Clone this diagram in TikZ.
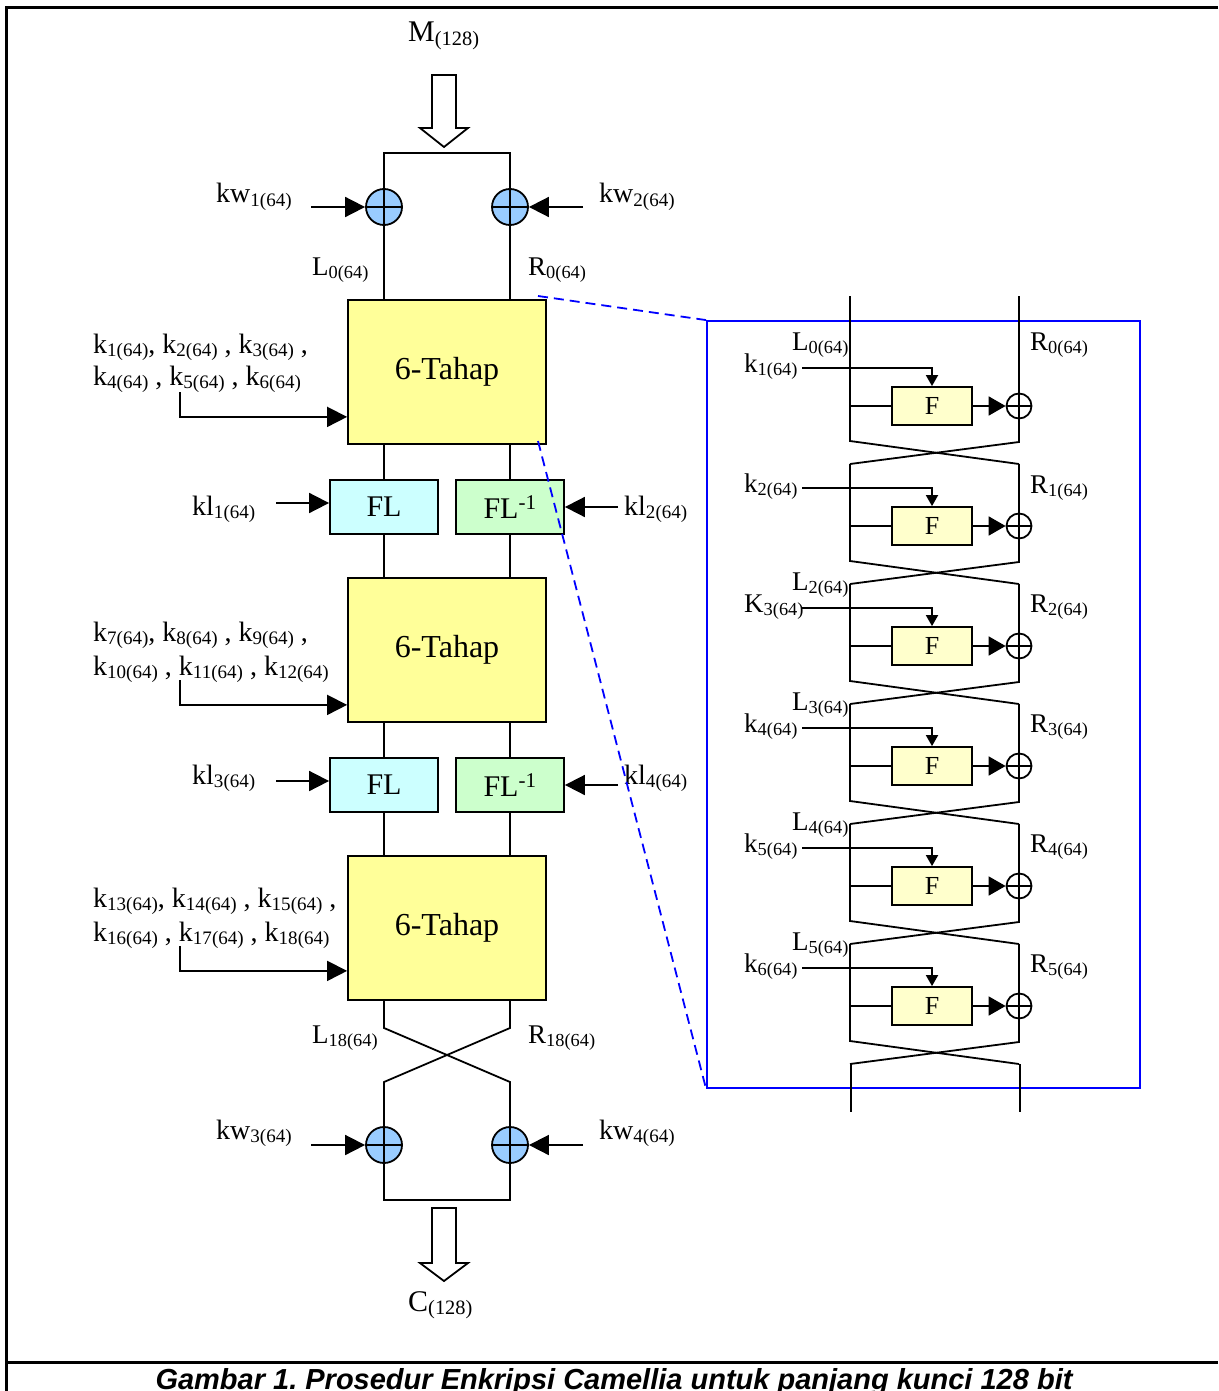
\documentclass[tikz,border=0pt]{standalone}
\usepackage{fontspec}
\usepackage{graphicx}
\setmainfont{Liberation Serif}
\newfontfamily\capfont{Liberation Sans}
\usetikzlibrary{arrows.meta,calc}
\definecolor{tyellow}{HTML}{FFFF99}
\definecolor{fyellow}{HTML}{FFFFCC}
\definecolor{xblue}{HTML}{99CCFF}
\definecolor{flcyan}{HTML}{CCFFFF}
\definecolor{flgreen}{HTML}{CCFFCC}
\newcommand\sbs[1]{\raisebox{-0.12em}{\scalebox{0.68}{#1}}}
\frenchspacing
\begin{document}
\begin{tikzpicture}[x=1pt,y=-1pt,
  ln/.style={line width=1.8pt},
  big/.style={font=\fontsize{30}{32}\selectfont},
  keyf/.style={font=\fontsize{28}{30}\selectfont},
  mid/.style={font=\fontsize{27}{30}\selectfont},
  lab/.style={inner sep=0pt, anchor=base west},
  tahap/.style={draw, line width=1.8pt, fill=tyellow, minimum width=198pt, minimum height=144pt, inner sep=0pt, font=\fontsize{32}{34}\selectfont},
  flbox/.style={draw, line width=1.8pt, minimum width=108pt, minimum height=54pt, inner sep=0pt, font=\fontsize{30}{32}\selectfont},
  bigxor/.style={circle, draw, line width=1.8pt, fill=xblue, minimum size=36pt, inner sep=0pt},
  fbox/.style={draw, line width=1.8pt, fill=fyellow, minimum width=80pt, minimum height=38pt, inner sep=0pt, font=\fontsize{26}{28}\selectfont},
  smxor/.style={circle, draw, line width=1.8pt, minimum size=25pt, inner sep=0pt},
  bigtip/.style={-{Triangle[length=20pt,width=20pt]}},
  midtip/.style={-{Triangle[length=17pt,width=19pt]}},
  smtip/.style={-{Triangle[length=11pt,width=12pt]}},
  hollow/.style={draw, line width=1.8pt, fill=white},
  zoomline/.style={draw=blue, line width=1.8pt, dash pattern=on 10pt off 6pt},
]
\useasboundingbox (0,0) rectangle (1218,1391);
% frame
\draw[line width=3pt] (1218,7.5) -- (6,7.5) -- (6,1391);
\draw[line width=3pt] (6,1362) -- (1218,1362);

% ---------- left column ----------
\draw[hollow] (432,75) -- (456,75) -- (456,128) -- (468,128) -- (444,147) -- (420,128) -- (432,128) -- cycle;
\draw[hollow] (432,1208) -- (456,1208) -- (456,1263) -- (468,1263) -- (444,1281) -- (420,1263) -- (432,1263) -- cycle;

\node[bigxor] (xa) at (384,207) {};
\node[bigxor] (xb) at (510,207) {};
\node[tahap] (t1) at (447,372) {6-Tahap};
\node[flbox, fill=flcyan] (fl1) at (384,507) {FL};
\node[flbox, fill=flgreen] (fli1) at (510,507) {FL\textsuperscript{-1}};
\node[tahap] (t2) at (447,650) {6-Tahap};
\node[flbox, fill=flcyan] (fl2) at (384,785) {FL};
\node[flbox, fill=flgreen] (fli2) at (510,785) {FL\textsuperscript{-1}};
\node[tahap] (t3) at (447,928) {6-Tahap};
\node[bigxor] (xc) at (384,1145) {};
\node[bigxor] (xd) at (510,1145) {};

\foreach \n in {xa,xb,xc,xd} {
  \draw[ln] (\n.north) -- (\n.south) (\n.west) -- (\n.east);
}

\coordinate (ta) at (384,153);
\coordinate (tb) at (510,153);
\draw[ln] (xa.north) -- (ta) -- (tb) -- (xb.north);
\draw[ln] (xa.south) -- (xa.south |- t1.north);
\draw[ln] (xb.south) -- (xb.south |- t1.north);
\draw[ln] (fl1.north) -- (fl1.north |- t1.south);
\draw[ln] (fli1.north) -- (fli1.north |- t1.south);
\draw[ln] (fl1.south) -- (fl1.south |- t2.north);
\draw[ln] (fli1.south) -- (fli1.south |- t2.north);
\draw[ln] (fl2.north) -- (fl2.north |- t2.south);
\draw[ln] (fli2.north) -- (fli2.north |- t2.south);
\draw[ln] (fl2.south) -- (fl2.south |- t3.north);
\draw[ln] (fli2.south) -- (fli2.south |- t3.north);

\coordinate (ca) at (384,1028);
\coordinate (cb) at (510,1028);
\coordinate (cc) at (384,1082);
\coordinate (cd) at (510,1082);
\draw[ln] (ca |- t3.south) -- (ca) -- (cd) -- (xd.north);
\draw[ln] (cb |- t3.south) -- (cb) -- (cc) -- (xc.north);
\coordinate (ba) at (384,1200);
\coordinate (bb) at (510,1200);
\draw[ln] (xc.south) -- (ba) -- (bb) -- (xd.south);

% key arrows
\coordinate (kw1s) at (311,207);
\coordinate (kw2s) at (583,207);
\coordinate (kw3s) at (311,1145);
\coordinate (kw4s) at (583,1145);
\draw[ln,bigtip] (kw1s) -- (xa.west);
\draw[ln,bigtip] (kw2s) -- (xb.east);
\draw[ln,bigtip] (kw3s) -- (xc.west);
\draw[ln,bigtip] (kw4s) -- (xd.east);

\coordinate (kl1s) at (276,503);
\coordinate (kl2s) at (618,507);
\coordinate (kl3s) at (276,781);
\coordinate (kl4s) at (618,785);
\draw[ln,bigtip] (kl1s) -- (kl1s -| fl1.west);
\draw[ln,bigtip] (kl2s) -- (kl2s -| fli1.east);
\draw[ln,bigtip] (kl3s) -- (kl3s -| fl2.west);
\draw[ln,bigtip] (kl4s) -- (kl4s -| fli2.east);

\coordinate (ka1) at (180,392);
\coordinate (ka2) at (180,680);
\coordinate (ka3) at (180,946);
\draw[ln,bigtip] (ka1) |- ([yshift=28pt]t1.south west);
\draw[ln,bigtip] (ka2) |- ([yshift=18pt]t2.south west);
\draw[ln,bigtip] (ka3) |- ([yshift=30pt]t3.south west);

% labels left
\node[lab,big] (lm) at (408,42) {M\sbs{(128)}};
\node[lab,big] (lc) at (408,1311) {C\sbs{(128)}};
\node[lab,keyf] (lkw1) at (216,203) {kw\sbs{1(64)}};
\node[lab,keyf] (lkw2) at (599,203) {kw\sbs{2(64)}};
\node[lab,keyf] (lkw3) at (216,1139) {kw\sbs{3(64)}};
\node[lab,keyf] (lkw4) at (599,1139) {kw\sbs{4(64)}};
\node[lab,mid] (ll0) at (312,275) {L\sbs{0(64)}};
\node[lab,mid] (lr0) at (528,275) {R\sbs{0(64)}};
\node[lab,mid] (ll18) at (312,1043) {L\sbs{18(64)}};
\node[lab,mid] (lr18) at (528,1043) {R\sbs{18(64)}};
\node[lab,keyf] (lkl1) at (192,515) {kl\sbs{1(64)}};
\node[lab,keyf] (lkl2) at (624,515) {kl\sbs{2(64)}};
\node[lab,keyf] (lkl3) at (192,784) {kl\sbs{3(64)}};
\node[lab,keyf] (lkl4) at (624,784) {kl\sbs{4(64)}};

\node[lab,keyf] (ks1a) at (93,353) {k\sbs{1(64)}, k\sbs{2(64)} , k\sbs{3(64)} ,};
\node[lab,keyf] (ks1b) at (93,385) {k\sbs{4(64)} , k\sbs{5(64)} , k\sbs{6(64)}};
\node[lab,keyf] (ks2a) at (93,641) {k\sbs{7(64)}, k\sbs{8(64)} , k\sbs{9(64)} ,};
\node[lab,keyf] (ks2b) at (93,675) {k\sbs{10(64)} , k\sbs{11(64)} , k\sbs{12(64)}};
\node[lab,keyf] (ks3a) at (93,907) {k\sbs{13(64)}, k\sbs{14(64)} , k\sbs{15(64)} ,};
\node[lab,keyf] (ks3b) at (93,941) {k\sbs{16(64)} , k\sbs{17(64)} , k\sbs{18(64)}};

% ---------- right panel ----------
\node[draw=blue, line width=1.8pt, minimum width=433pt, minimum height=767pt, inner sep=0pt] (zr) at (923.5,704.5) {};
\coordinate (d1) at (538,296);
\coordinate (d2) at (538,441);
\draw[zoomline] (d1) -- (zr.north west);
\draw[zoomline] (d2) -- (zr.south west);

\foreach \i in {1,...,6} {
  \pgfmathsetmacro{\cy}{406+120*(\i-1)}
  \pgfmathsetmacro{\ytop}{ifthenelse(\i==1,296,\cy-62)}
  \node[fbox] (F\i) at (932,\cy) {F};
  \node[smxor] (X\i) at (1019,\cy) {};
  \coordinate (KS\i) at (802,\cy-38);
  \coordinate (LV\i) at (850,\cy);
  \draw[ln] (850,\ytop) -- (850,\cy+35) -- (1019,\cy+58);
  \draw[ln] (1019,\ytop) -- (1019,\cy+36) -- (850,\cy+58);
  \draw[ln,smtip] (KS\i) -| (F\i.north);
  \draw[ln] (LV\i) -- (F\i.west);
  \draw[ln,midtip] (F\i.east) -- (X\i.west);
  \draw[ln] (X\i.west) -- (X\i.east);
}
\coordinate (e1) at (851,1064);
\coordinate (e2) at (1020,1064);
\draw[ln] (e1) -- (851,1112);
\draw[ln] (e2) -- (1020,1112);

\node[lab,mid] (rl0) at (792,350) {L\sbs{0(64)}};
\node[lab,mid] (rr0) at (1030,350) {R\sbs{0(64)}};
\node[lab,mid] (rk1) at (744,372) {k\sbs{1(64)}};
\node[lab,mid] (rk2) at (744,492) {k\sbs{2(64)}};
\node[lab,mid] (rr1) at (1030,493) {R\sbs{1(64)}};
\node[lab,mid] (rl2) at (792,590) {L\sbs{2(64)}};
\node[lab,mid] (rk3) at (744,612) {K\sbs{3(64)}};
\node[lab,mid] (rr2) at (1030,612) {R\sbs{2(64)}};
\node[lab,mid] (rl3) at (792,710) {L\sbs{3(64)}};
\node[lab,mid] (rk4) at (744,732) {k\sbs{4(64)}};
\node[lab,mid] (rr3) at (1030,732) {R\sbs{3(64)}};
\node[lab,mid] (rl4) at (792,830) {L\sbs{4(64)}};
\node[lab,mid] (rk5) at (744,852) {k\sbs{5(64)}};
\node[lab,mid] (rr4) at (1030,852) {R\sbs{4(64)}};
\node[lab,mid] (rl5) at (792,950) {L\sbs{5(64)}};
\node[lab,mid] (rk6) at (744,972) {k\sbs{6(64)}};
\node[lab,mid] (rr5) at (1030,972) {R\sbs{5(64)}};

% caption
\node[font=\capfont\bfseries\itshape\fontsize{29}{31}\selectfont, anchor=base, inner sep=0pt] (cap) at (614,1389) {Gambar 1. Prosedur Enkripsi Camellia untuk panjang kunci 128 bit};
\end{tikzpicture}
\end{document}
